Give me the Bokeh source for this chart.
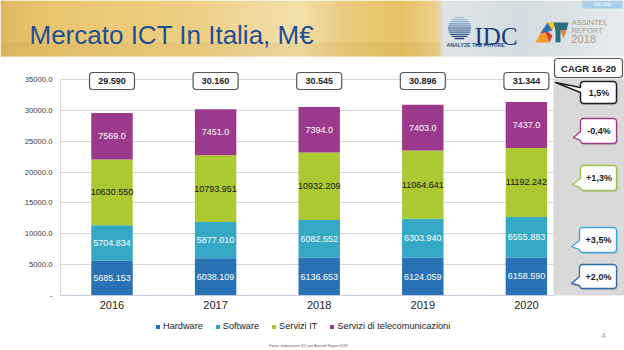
import numpy as np
from bokeh.core.properties import value
from bokeh.embed import file_html
from bokeh.layouts import column
from bokeh.models import (BoxAnnotation, ColumnDataSource, FixedTicker, Label,
                          Legend, LegendItem, Range1d)
from bokeh.plotting import figure
from bokeh.resources import INLINE

# ---------------- data (milioni di euro) ----------------
years = [2016, 2017, 2018, 2019, 2020]
year_labels = ["2016", "2017", "2018", "2019", "2020"]
hardware = [5685.153, 6038.109, 6136.653, 6124.059, 6158.590]
software = [5704.834, 5877.010, 6082.552, 6303.940, 6555.883]
servizi_it = [10630.550, 10793.951, 10932.209, 11064.641, 11192.242]
telecom = [7569.0, 7451.0, 7394.0, 7403.0, 7437.0]
series_names = ["Hardware", "Software", "Servizi IT", "Servizi di telecomunicazioni"]
series_keys = ["hardware", "software", "servizi_it", "telecom"]
y_ticks = [0, 5000, 10000, 15000, 20000, 25000, 30000, 35000]
y_tick_labels = ["-", "5000.0", "10000.0", "15000.0", "20000.0", "25000.0", "30000.0", "35000.0"]
cagr_title = "CAGR 16-20"
cagr_total = "1,5%"
cagr_series = ["-0,4%", "+1,3%", "+3,5%", "+2,0%"]  # telecom, servizi IT, software, hardware
title_text = "Mercato ICT In Italia, M€"
source_note = "Fonte: elaborazioni IDC per Assintel Report 2018"
page_number = "4"

FONT = "Liberation Sans"
COLORS = ["#2a72b6", "#35a8c6", "#adc932", "#9b3a8d"]
LABEL_COLORS = ["white", "white", "#111111", "white"]

# ---------------- page geometry (page pixels, y downwards) ----------------
W, H = 624, 350
HDR_H = 57               # header band
CH_BOT = 315             # chart figure ends here, footer below
FRAME_L = 60
ZERO_Y = 295             # page y of value 0
TOP_Y = 79               # page y of the highest tick
FIRST_X = 111.5          # page x of the first bar centre
STEP_X = 103.6           # pixels between years
panel_x = 553            # left edge of the CAGR column

ppu = (ZERO_Y - TOP_Y) / y_ticks[-1]
y_end = (ZERO_Y - HDR_H) / ppu
x_start = years[0] - (FIRST_X - FRAME_L) / STEP_X
x_end = x_start + (W - FRAME_L) / STEP_X


def bare(fig):
    fig.outline_line_color = None
    fig.background_fill_color = "white"
    fig.border_fill_color = "white"
    fig.frame_align = False
    return fig


# ================= chart =================
p = bare(figure(width=W, height=CH_BOT - HDR_H, x_range=Range1d(x_start, x_end),
                y_range=Range1d(0, y_end), toolbar_location=None, output_backend="svg",
                min_border_left=FRAME_L, min_border_right=0, min_border_top=0,
                min_border_bottom=CH_BOT - ZERO_Y))
p.extra_x_ranges = {"px": Range1d(FRAME_L, W)}
p.extra_y_ranges = {"py": Range1d(ZERO_Y, HDR_H)}
PX = dict(x_range_name="px", y_range_name="py")

p.xgrid.visible = False
p.ygrid.ticker = FixedTicker(ticks=y_ticks)
p.ygrid.grid_line_color = "#d9d9d9"

yax = p.yaxis[0]
yax.ticker = FixedTicker(ticks=y_ticks)
yax.major_label_overrides = {t: s for t, s in zip(y_ticks, y_tick_labels)}
yax.major_tick_out = 0
yax.major_tick_in = 0
yax.minor_tick_out = 0
yax.minor_tick_in = 0
yax.axis_line_color = "#d9d9d9"
yax.bounds = (0, y_ticks[-1])
yax.major_label_standoff = 8
yax.major_label_text_font = FONT
yax.major_label_text_font_size = "7.7px"
yax.major_label_text_color = "#404040"

xax = p.xaxis[0]
xax.ticker = FixedTicker(ticks=years)
xax.major_label_overrides = {y: s for y, s in zip(years, year_labels)}
xax.major_tick_out = 0
xax.major_tick_in = 0
xax.minor_tick_out = 0
xax.minor_tick_in = 0
xax.axis_line_color = "#c9c9db"
xax.bounds = (x_start, x_start + (panel_x - FRAME_L) / STEP_X)
xax.major_label_standoff = 5
xax.major_label_text_font = FONT
xax.major_label_text_font_size = "11px"
xax.major_label_text_color = "#222222"

src = ColumnDataSource(dict(year=years, hardware=hardware, software=software,
                            servizi_it=servizi_it, telecom=telecom))
bars = p.vbar_stack(series_keys, x="year", width=0.4, fill_color=COLORS,
                    line_color=None, source=src)

# segment values written inside the bars
stack = np.array([hardware, software, servizi_it, telecom])
tops = np.cumsum(stack, axis=0)
mids = tops - stack / 2
lx, ly, lt, lc = [], [], [], []
for i, vals in enumerate(stack):
    for j, v in enumerate(vals):
        lx.append(years[j])
        ly.append(mids[i, j])
        lt.append(f"{v:.1f}" if series_keys[i] == "telecom" else f"{v:.3f}")
        lc.append(LABEL_COLORS[i])
p.text(x="x", y="y", text="t", text_color="c",
       source=ColumnDataSource(dict(x=lx, y=ly, t=lt, c=lc)),
       text_font=value(FONT), text_font_size="9px",
       text_align="center", text_baseline="middle")

# grey CAGR column
p.quad(left=[panel_x], right=[W], top=[78], bottom=[297], fill_color="#d9d9d9",
       line_color=None, **PX)

# totals above each bar
totals = tops[-1]
for yr, t in zip(years, totals):
    p.add_layout(BoxAnnotation(left=yr - 0.217, right=yr + 0.217, top=72, bottom=89,
                               y_range_name="py", fill_color="white", fill_alpha=1,
                               line_color="#555555", line_alpha=1, line_width=1.2,
                               border_radius=3))
    p.add_layout(Label(x=yr, y=80.5, y_range_name="py", text=f"{t / 1000:.3f}",
                       text_font=FONT, text_font_size="9px", text_font_style="bold",
                       text_color="#222222", text_align="center", text_baseline="middle"))


def bubble(x0, y0, x1, y1, r, tail=None, n=6):
    """Rounded box (page coordinates, y downwards) with an optional tail on the left."""
    xs, ys = [], []

    def arc(cx, cy, a0, a1):
        for a in np.linspace(a0, a1, n):
            xs.append(cx + r * np.cos(a))
            ys.append(cy + r * np.sin(a))

    arc(x1 - r, y0 + r, -np.pi / 2, 0)
    arc(x1 - r, y1 - r, 0, np.pi / 2)
    arc(x0 + r, y1 - r, np.pi / 2, np.pi)
    if tail is not None:
        base_lo, tip_x, tip_y, base_hi = tail
        xs += [x0, tip_x, x0]
        ys += [base_lo, tip_y, base_hi]
    arc(x0 + r, y0 + r, np.pi, 1.5 * np.pi)
    return xs, ys


# CAGR heading
p.add_layout(BoxAnnotation(left=554, right=622, top=58, bottom=77, fill_color="white",
                           fill_alpha=1, line_color="#555555", line_alpha=1,
                           line_width=1.2, border_radius=3, **PX))
p.add_layout(Label(x=588, y=67.5, text=cagr_title, text_font=FONT, text_font_size="9.5px",
                   text_font_style="bold", text_color="#1a1a1a", text_align="center",
                   text_baseline="middle", **PX))

# CAGR callouts: total, then telecom / servizi IT / software / hardware
bubble_boxes = [(580, 81, 616, 103), (580, 118, 616, 143), (580, 165, 616, 190),
                (579, 227, 616, 252), (579, 264, 616, 288)]
bubble_tails = [(92, 555, 82, 87), (140, 573, 137, 131), (187, 572, 184, 178),
                (249, 571, 246, 240), (285, 571, 283, 276)]
bubble_lines = ["#222222", COLORS[3], "#9cc54e", "#3aa8dc", "#2f6aaa"]
bubble_widths = [1.5, 1.3, 1.3, 1.3, 1.3]
bubble_texts = [cagr_total] + cagr_series

bx, by, sx, sy = [], [], [], []
for (x0, y0, x1, y1), tl in zip(bubble_boxes, bubble_tails):
    xs, ys = bubble(x0, y0, x1, y1, 3, tl)
    bx.append(xs)
    by.append(ys)
    sx.append([v + 1.5 for v in xs])
    sy.append([v + 1.5 for v in ys])
p.patches(xs=sx, ys=sy, fill_color="#8f8f8f", fill_alpha=0.35, line_color=None, **PX)
p.patches(xs=bx, ys=by, fill_color="white", line_color=bubble_lines,
          line_width=bubble_widths, line_join="round", **PX)
p.text(x=[(b[0] + b[2]) / 2 + 0.5 for b in bubble_boxes],
       y=[(b[1] + b[3]) / 2 for b in bubble_boxes], text=bubble_texts,
       text_font=value(FONT), text_font_size="9px", text_font_style="bold",
       text_color="#1a1a1a", text_align="center", text_baseline="middle", **PX)

# ================= footer: legend and source =================
ft = bare(figure(width=W, height=H - CH_BOT, x_range=Range1d(0, W),
                 y_range=Range1d(H, CH_BOT), toolbar_location=None, output_backend="svg",
                 min_border=0, x_axis_location=None, y_axis_location=None))
ft.grid.visible = False
# legend swatches: a zero-height bar far off-canvas per series, only the icons show
swatches = [ft.vbar(x=[-1000], top=[H], bottom=[H], width=1, fill_color=c,
                    line_color=None) for c in COLORS]
legend = Legend(items=[LegendItem(label=n, renderers=[r]) for n, r in zip(series_names, swatches)],
                orientation="horizontal", location=(155, H - 331),
                glyph_width=5, glyph_height=5, label_standoff=3, spacing=12,
                padding=0, margin=0, label_height=10, label_width=10,
                border_line_color=None, background_fill_alpha=0,
                label_text_font=FONT, label_text_font_size="9.2px",
                label_text_color="#222222")
ft.add_layout(legend)
ft.text(x=[308], y=[345], text=[source_note], text_font=value(FONT), text_font_size="3.6px",
        text_color="#555555", text_align="center", text_baseline="middle")
ft.text(x=[603], y=[335], text=[page_number], text_font=value(FONT), text_font_size="8px",
        text_color="#a0a0a0", text_align="center", text_baseline="middle")

# ================= slide header =================
hdr = bare(figure(width=W, height=HDR_H, x_range=Range1d(0, W), y_range=Range1d(HDR_H, 0),
                  toolbar_location=None, output_backend="svg", min_border=0,
                  x_axis_location=None, y_axis_location=None))
hdr.grid.visible = False


def hex_rgb(h):
    return np.array([int(h[i:i + 2], 16) for i in (1, 3, 5)], dtype=float)


def rgb_hex(c):
    return "#%02x%02x%02x" % tuple(int(round(v)) for v in c)


stops = [(0, "#e0b760"), (40, "#e8c36e"), (120, "#ecca7a"), (200, "#eecf84"),
         (260, "#f1daa0"), (300, "#f2dfaa"), (340, "#ebcb82"), (400, "#e7c162"),
         (436, "#ecd08c"), (444, "#dfe5e7"), (520, "#d3dce1"), (580, "#dde4e7"),
         (624, "#e7ecee")]
sx_pos = np.array([s[0] for s in stops], dtype=float)
s_rgb = np.array([hex_rgb(s[1]) for s in stops])
lefts = np.arange(0, W, 2.0)
cols = [rgb_hex([np.interp(xl + 1, sx_pos, s_rgb[:, k]) for k in range(3)]) for xl in lefts]
hdr.quad(left=lefts, right=lefts + 2.6, top=0, bottom=56, fill_color=cols, line_color=None)
hdr.quad(left=[0], right=[440], top=[42], bottom=[56], fill_color="#b98a35",
         fill_alpha=0.12, line_color=None)

hdr.text(x=[29], y=[34.5], text=[title_text], text_font=value(FONT), text_font_size="26px",
         text_color="#1d4f94", text_baseline="alphabetic")

# IDC mark
gcx, gcy, gr = 459, 27.5, 11.5
rows = np.arange(gcy - gr + 1, gcy + gr, 2.1)
g_top, g_bot = hex_rgb("#a8c8e6"), hex_rgb("#1f3d7a")
g_cols, g_l, g_r = [], [], []
for yy in rows:
    half = np.sqrt(max(gr ** 2 - (yy - gcy) ** 2, 0))
    f = (yy - rows[0]) / (rows[-1] - rows[0])
    g_cols.append(rgb_hex(g_top + (g_bot - g_top) * f))
    g_l.append(gcx - half)
    g_r.append(gcx + half)
hdr.quad(left=g_l, right=g_r, top=rows - 0.65, bottom=rows + 0.65, fill_color=g_cols,
         line_color=None)
hdr.text(x=[474], y=[36], text=["IDC"], text_font=value("Liberation Serif"),
         text_font_size="25px", text_color="#1e3a78", text_baseline="alphabetic")
hdr.text(x=[446], y=[44.5], text=["ANALYZE THE FUTURE"], text_font=value(FONT),
         text_font_size="5.2px", text_font_style="bold", text_color="#2a4a80",
         text_baseline="middle")

# Assintel mark
hdr.patches(xs=[[535, 543, 549], [543, 549, 552], [540, 547, 552], [547, 556, 552],
                [553, 568, 566, 560, 560, 555, 555], [560, 566, 563]],
            ys=[[42, 27, 42], [27, 42, 35], [33, 22, 30], [22, 22, 30],
                [22, 22, 30, 30, 42, 42, 30], [30, 30, 38]],
            fill_color=["#f39a2b", "#d8402e", "#2f6fb6", "#f6c61d", "#2d6f80", "#ee7d22"],
            line_color=None)
hdr.text(x=[571, 571, 571], y=[21.5, 29.5, 38], text=["ASSINTEL", "REPORT", "2018"],
         text_font=value(FONT), text_font_size=["7.5px", "7.5px", "11px"],
         text_color="#a99c86", text_baseline="middle")

# clip button
hdr.quad(left=[582], right=[622], top=[0], bottom=[8], fill_color="#a8cfe8", line_color=None)
hdr.text(x=[602], y=[4], text=["Clip slide"], text_font=value(FONT), text_font_size="4.5px",
         text_color="white", text_align="center", text_baseline="middle")

page = column(hdr, p, ft, spacing=0)
with open("out.html", "w") as fh:
    fh.write(file_html(page, INLINE, title=title_text))
